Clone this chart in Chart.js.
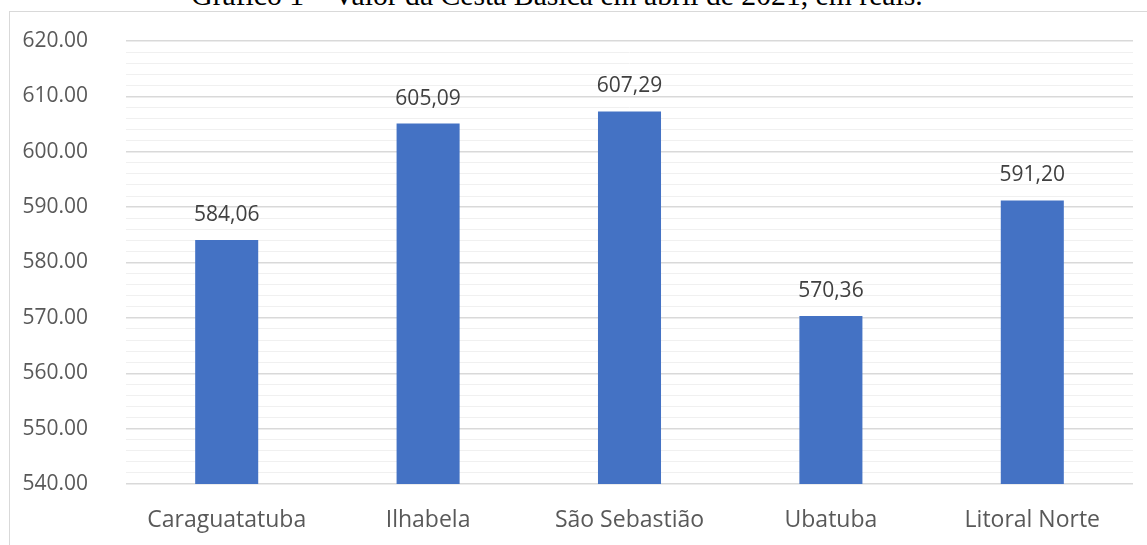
<!DOCTYPE html>
<html>
<head>
<meta charset="utf-8">
<script src="https://cdn.jsdelivr.net/npm/chart.js@4"></script>
<style>
    html, body { margin: 0; padding: 0; background: #fff; overflow: hidden; }
    body { width: 1147px; height: 545px; position: relative; }
    .frame { position: absolute; left: 9px; top: 11px; width: 1200px; height: 600px; border: 1px solid #d9d9d9; }
    .title { position: absolute; left: 0; width: 1114px; top: -20px; line-height: 30px; text-align: center;
             font-family: 'Liberation Serif', 'Times New Roman', serif; font-size: 29.7px; color: #000; white-space: nowrap; }
    #wrap { position: absolute; left: 0; top: 0; width: 1147px; height: 545px; }
</style>
</head>
<body>
<div class="frame"></div>
<div class="title">Gráfico 1 – Valor da Cesta Básica em abril de 2021, em reais.</div>
<div id="wrap"><canvas id="chart"></canvas></div>
<script>
const cities = ['Caraguatatuba', 'Ilhabela', 'São Sebastião', 'Ubatuba', 'Litoral Norte'];
const prices = [584.06, 605.09, 607.29, 570.36, 591.20];
const yMin = 540;
const yMax = 620;

// rótulos no formato brasileiro (vírgula decimal)
const fmtBR = v => v.toFixed(2).replace('.', ',');

const barLabels = {
    id: 'barLabels',
    afterDatasetsDraw(chart) {
        const ctx = chart.ctx;
        const meta = chart.getDatasetMeta(0);
        ctx.save();
        ctx.font = '21px "Open Sans", sans-serif';
        ctx.fillStyle = '#404040';
        ctx.textAlign = 'center';
        ctx.textBaseline = 'alphabetic';
        meta.data.forEach((bar, i) => {
            ctx.fillText(fmtBR(prices[i]), bar.x, bar.y - 19);
        });
        ctx.restore();
    }
};

new Chart(document.getElementById('chart'), {
    type: 'bar',
    data: {
        labels: cities,
        datasets: [{
            data: prices,
            backgroundColor: '#4472c4',
            borderWidth: 0,
            categoryPercentage: 1,
            barPercentage: 0.313
        }]
    },
    options: {
        responsive: true,
        maintainAspectRatio: false,
        animation: false,
        layout: { padding: { top: 41, right: 14, left: 0, bottom: 0 } },
        plugins: {
            legend: { display: false },
            tooltip: { enabled: false }
        },
        scales: {
            x: {
                grid: { display: false, drawTicks: false },
                border: { display: false },
                ticks: { color: '#595959', font: { family: 'Open Sans', size: 23 }, padding: 23 },
                afterFit: s => { s.height = 61; s.paddingLeft = 0; s.paddingRight = 0; }
            },
            y: {
                min: yMin,
                max: yMax,
                border: { display: false },
                grid: {
                    drawTicks: false,
                    color: c => (c.tick.value % 10 === 0 ? '#d9d9d9' : '#f0f0f0'),
                    lineWidth: c => (c.tick.value % 10 === 0 ? 1.5 : 1)
                },
                ticks: {
                    stepSize: 2,
                    autoSkip: false,
                    padding: 38,
                    color: '#595959',
                    font: { family: 'Open Sans', size: 21 },
                    callback: v => (v % 10 === 0 ? v.toFixed(2) : '')
                },
                afterFit: s => { s.width = 126; s.paddingTop = 0; s.paddingBottom = 0; }
            }
        }
    },
    plugins: [barLabels]
});
</script>
</body>
</html>
